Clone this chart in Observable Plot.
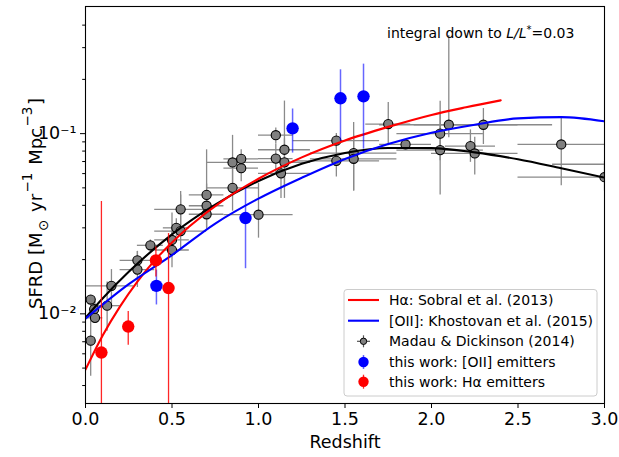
<!DOCTYPE html>
<html><head><meta charset="utf-8">
<script src="https://cdn.jsdelivr.net/npm/d3@7"></script>
<script src="https://cdn.jsdelivr.net/npm/@observablehq/plot@0.6"></script>
<style>
body{margin:0;background:#fff;}
svg{font-family:"DejaVu Sans",sans-serif;}
</style>
</head><body><div id="chart"></div>
<script>
// Madau & Dickinson (2014) compilation (z centre, z range, SFRD and its range)
const mdZ   = [0.03, 0.05, 0.055, 0.03, 0.125, 0.15, 0.30, 0.30, 0.375, 0.50, 0.50, 0.525, 0.55, 0.55, 0.70, 0.70, 0.70, 0.85, 0.85, 0.90, 0.90, 1.00, 1.10, 1.10, 1.15, 1.15, 1.13, 1.45, 1.45, 1.55, 1.55, 1.75, 1.85, 2.05, 2.05, 2.10, 2.225, 2.30, 2.25, 2.75, 3.00, 3.05];
const mdZlo = [0.03, 0.05, 0.01, 0.03, 0.05, 0.00, 0.20, 0.20, 0.30, 0.40, 0.40, 0.45, 0.40, 0.40, 0.60, 0.60, 0.60, 0.70, 0.70, 0.80, 0.80, 0.80, 1.00, 1.00, 1.00, 1.00, 1.00, 1.20, 1.20, 1.30, 1.30, 1.62, 1.70, 1.80, 1.80, 1.70, 2.08, 1.90, 2.00, 2.50, 2.50, 2.70];
const mdZhi = [0.03, 0.05, 0.10, 0.03, 0.20, 0.28, 0.40, 0.40, 0.45, 0.60, 0.60, 0.60, 0.70, 0.70, 0.80, 0.80, 0.80, 1.00, 1.00, 1.00, 1.00, 1.20, 1.20, 1.20, 1.30, 1.30, 1.30, 1.70, 1.70, 1.80, 1.80, 1.88, 2.00, 2.30, 2.30, 2.50, 2.37, 2.70, 2.50, 3.00, 3.50, 3.40];
const mdV   = [0.0120, 0.0106, 0.0095, 0.0071, 0.0111, 0.0143, 0.0198, 0.0176, 0.0240, 0.0257, 0.0226, 0.0300, 0.0288, 0.0380, 0.0457, 0.0398, 0.0357, 0.0500, 0.0692, 0.0724, 0.0643, 0.0355, 0.0980, 0.0727, 0.0814, 0.0693, 0.0602, 0.0914, 0.0706, 0.0780, 0.0725, 0.1130, 0.0871, 0.1000, 0.0810, 0.1120, 0.0853, 0.1120, 0.0776, 0.0871, 0.0573, 0.0676];
const mdLo  = [0.0112, 0.0095, 0.0091, 0.0045, 0.0080, 0.0111, 0.0176, 0.0140, 0.0219, 0.0214, 0.0180, 0.0267, 0.0224, 0.0295, 0.0398, 0.0295, 0.0300, 0.0371, 0.0447, 0.0631, 0.0540, 0.0263, 0.0873, 0.0600, 0.0502, 0.0437, 0.0437, 0.0833, 0.0574, 0.0481, 0.0480, 0.0857, 0.0813, 0.0708, 0.0456, 0.0950, 0.0693, 0.0870, 0.0589, 0.0513, 0.0480, 0.0478];
const mdHi  = [0.0126, 0.0118, 0.0117, 0.0112, 0.0150, 0.0176, 0.0222, 0.0222, 0.0257, 0.0363, 0.0285, 0.0337, 0.0478, 0.0457, 0.0525, 0.0813, 0.0430, 0.0630, 0.0978, 0.0813, 0.0760, 0.0530, 0.1074, 0.0870, 0.1516, 0.0935, 0.0700, 0.1002, 0.0868, 0.1154, 0.0978, 0.1490, 0.0912, 0.1514, 0.1314, 0.3500, 0.1049, 0.1378, 0.0955, 0.1230, 0.0700, 0.0832];

// this work: [OII] emitters
const oiiZ  = [0.41, 0.925, 1.197, 1.474, 1.607];
const oiiV  = [0.0143, 0.0340, 0.107, 0.157, 0.161];
const oiiLo = [0.0112, 0.0178, 0.078, 0.0906, 0.082];
const oiiHi = [0.0175, 0.0497, 0.137, 0.226, 0.243];

// this work: Halpha emitters
const haZ  = [0.092, 0.247, 0.407, 0.48];
const haV  = [0.0061, 0.0085, 0.0198, 0.0139];
const haLo = [0.002, 0.0067, 0.0160, 0.002];
const haHi = [0.0420, 0.0103, 0.0235, 0.0279];

// fitted curves
const mdCurveZ = [0, 0.1, 0.25, 0.5, 0.75, 1.0, 1.25, 1.5, 1.75, 2.0, 2.25, 2.5, 2.75, 3.0];
const mdCurveV = [0.0095, 0.0122, 0.0171, 0.0276, 0.0404, 0.0546, 0.0680, 0.0781, 0.0833, 0.0831, 0.0787, 0.0720, 0.0642, 0.0570];
const sobZ = [0, 0.1, 0.2, 0.3, 0.4, 0.5, 0.6, 0.8, 1.0, 1.25, 1.5, 1.75, 2.0, 2.2, 2.4];
const sobV = [0.0049, 0.0076, 0.0110, 0.0151, 0.0198, 0.0249, 0.0305, 0.0429, 0.0562, 0.0738, 0.0916, 0.109, 0.127, 0.140, 0.153];
const khoZ = [0, 0.25, 0.5, 0.75, 1.0, 1.25, 1.5, 1.75, 2.0, 2.25, 2.5, 2.75, 3.0];
const khoV = [0.0094, 0.0146, 0.0212, 0.0317, 0.0436, 0.0569, 0.0724, 0.0875, 0.101, 0.112, 0.1215, 0.1235, 0.117];

const xTicks = [0, 0.5, 1.0, 1.5, 2.0, 2.5, 3.0];
const yMajor = [0.01, 0.1];
const yMajorLabels = ["10\u207B\u00B2", "10\u207B\u00B9"];
const yMinor = [0.004, 0.005, 0.006, 0.007, 0.008, 0.009, 0.02, 0.03, 0.04, 0.05, 0.06, 0.07, 0.08, 0.09, 0.2, 0.3, 0.4];

const legendLabels = ["H\u03B1: Sobral et al. (2013)", "[OII]: Khostovan et al. (2015)", "Madau & Dickinson (2014)", "this work: [OII] emitters", "this work: H\u03B1 emitters"];

const md = mdZ.map((z, i) => ({z, zlo: mdZlo[i], zhi: mdZhi[i], v: mdV[i], lo: mdLo[i], hi: mdHi[i]}));
const oii = oiiZ.map((z, i) => ({z, v: oiiV[i], lo: oiiLo[i], hi: oiiHi[i]}));
const ha = haZ.map((z, i) => ({z, v: haV[i], lo: haLo[i], hi: haHi[i]}));
const mdCurve = mdCurveZ.map((z, i) => ({z, v: mdCurveV[i]}));
const sob = sobZ.map((z, i) => ({z, v: sobV[i]}));
const kho = khoZ.map((z, i) => ({z, v: khoV[i]}));

const plot = Plot.plot({
  width: 619, height: 457,
  marginLeft: 85, marginRight: 15, marginTop: 6, marginBottom: 54,
  style: {fontFamily: "DejaVu Sans", fontSize: "17.5px", background: "white", color: "black"},
  x: {domain: [0, 3]},
  y: {type: "log", domain: [0.00318, 0.5075]},
  marks: [
    Plot.ruleY(md, {x1: "zlo", x2: "zhi", y: "v", stroke: "#8a8a8a", strokeWidth: 1.3, clip: true}),
    Plot.ruleX(md, {x: "z", y1: "lo", y2: "hi", stroke: "#8a8a8a", strokeWidth: 1.3, clip: true}),
    Plot.dot(md, {x: "z", y: "v", r: 4.6, fill: "#808080", stroke: "black", strokeWidth: 1.1, clip: true}),
    Plot.line(mdCurve, {x: "z", y: "v", stroke: "black", strokeWidth: 2.1, curve: "monotone-x", clip: true}),
    Plot.line(sob, {x: "z", y: "v", stroke: "red", strokeWidth: 2.1, curve: "monotone-x", clip: true}),
    Plot.line(kho, {x: "z", y: "v", stroke: "blue", strokeWidth: 2.1, curve: "monotone-x", clip: true}),
    Plot.ruleX(oii, {x: "z", y1: "lo", y2: "hi", stroke: "blue", strokeOpacity: 0.6, strokeWidth: 1.5, clip: true}),
    Plot.dot(oii, {x: "z", y: "v", r: 6.2, fill: "blue", clip: true}),
    Plot.ruleX(ha, {x: "z", y1: "lo", y2: "hi", stroke: "red", strokeOpacity: 0.85, strokeWidth: 1.3, clip: true}),
    Plot.dot(ha, {x: "z", y: "v", r: 6.2, fill: "red", clip: true}),
    Plot.axisX({ticks: xTicks, tickFormat: d3.format(".1f"), tickSize: 5, tickPadding: 4, label: "Redshift", labelAnchor: "center", labelArrow: "none", labelOffset: 44}),
    Plot.axisY({ticks: yMajor, tickFormat: (d) => yMajorLabels[yMajor.indexOf(d)], tickSize: 5, tickPadding: 4, label: null}),
    Plot.axisY({ticks: yMinor, tickFormat: () => "", tickSize: 2.8, label: null}),
    Plot.frame({stroke: "black", strokeWidth: 1.1})
  ]
});
document.getElementById("chart").appendChild(plot);

const svg = d3.select(plot);
// y-axis label
const yl = svg.append("text")
  .attr("transform", "translate(35,203.5) rotate(-90)")
  .attr("text-anchor", "middle").attr("dominant-baseline", "central")
  .attr("font-size", 18).attr("fill", "black");
yl.append("tspan").text("SFRD [M");
yl.append("tspan").attr("dx", 1.5).attr("baseline-shift", "sub").attr("font-size", 13.5).text("\u2299");
yl.append("tspan").attr("dx", 2).text(" yr");
yl.append("tspan").attr("dx", 1.5).attr("baseline-shift", "super").attr("font-size", 13.5).text("\u22121");
yl.append("tspan").attr("dx", 2).text(" Mpc");
yl.append("tspan").attr("dx", 1.5).attr("baseline-shift", "super").attr("font-size", 13.5).text("\u22123");
yl.append("tspan").attr("dx", 1.5).text("]");

// annotation
const an = svg.append("text").attr("x", 387).attr("y", 38).attr("text-anchor", "start").attr("font-size", 14).attr("fill", "black");
an.append("tspan").text("integral down to ");
an.append("tspan").attr("font-style", "italic").text("L/L");
an.append("tspan").attr("baseline-shift", "super").attr("font-size", 10).text("*");
an.append("tspan").text("=0.03");

// legend
const lg = svg.append("g").attr("font-size", 14).attr("text-anchor", "start");
lg.append("rect").attr("x", 344).attr("y", 289.5).attr("width", 253).attr("height", 106.5).attr("rx", 3)
  .attr("fill", "white").attr("fill-opacity", 0.8).attr("stroke", "#cccccc");
const rowY = [300, 320.7, 341.3, 362, 381.7];
legendLabels.forEach((t, i) => {
  lg.append("text").attr("x", 389).attr("y", rowY[i]).attr("dominant-baseline", "central").attr("text-anchor", "start").attr("fill", "black").text(t);
});
lg.append("line").attr("x1", 348).attr("x2", 379).attr("y1", rowY[0]).attr("y2", rowY[0]).attr("stroke", "red").attr("stroke-width", 2.1);
lg.append("line").attr("x1", 348).attr("x2", 379).attr("y1", rowY[1]).attr("y2", rowY[1]).attr("stroke", "blue").attr("stroke-width", 2.1);
lg.append("line").attr("x1", 357).attr("x2", 370).attr("y1", rowY[2]).attr("y2", rowY[2]).attr("stroke", "#555").attr("stroke-width", 1.2);
lg.append("line").attr("x1", 363.5).attr("x2", 363.5).attr("y1", rowY[2] - 6).attr("y2", rowY[2] + 6).attr("stroke", "#555").attr("stroke-width", 1.2);
lg.append("circle").attr("cx", 363.5).attr("cy", rowY[2]).attr("r", 3.2).attr("fill", "#808080").attr("stroke", "black");
lg.append("line").attr("x1", 363.5).attr("x2", 363.5).attr("y1", rowY[3] - 7).attr("y2", rowY[3] + 7).attr("stroke", "blue").attr("stroke-opacity", 0.6).attr("stroke-width", 1.5);
lg.append("circle").attr("cx", 363.5).attr("cy", rowY[3]).attr("r", 5.2).attr("fill", "blue");
lg.append("line").attr("x1", 363.5).attr("x2", 363.5).attr("y1", rowY[4] - 7).attr("y2", rowY[4] + 7).attr("stroke", "red").attr("stroke-opacity", 0.85).attr("stroke-width", 1.3);
lg.append("circle").attr("cx", 363.5).attr("cy", rowY[4]).attr("r", 5.2).attr("fill", "red");
</script>
</body></html>
